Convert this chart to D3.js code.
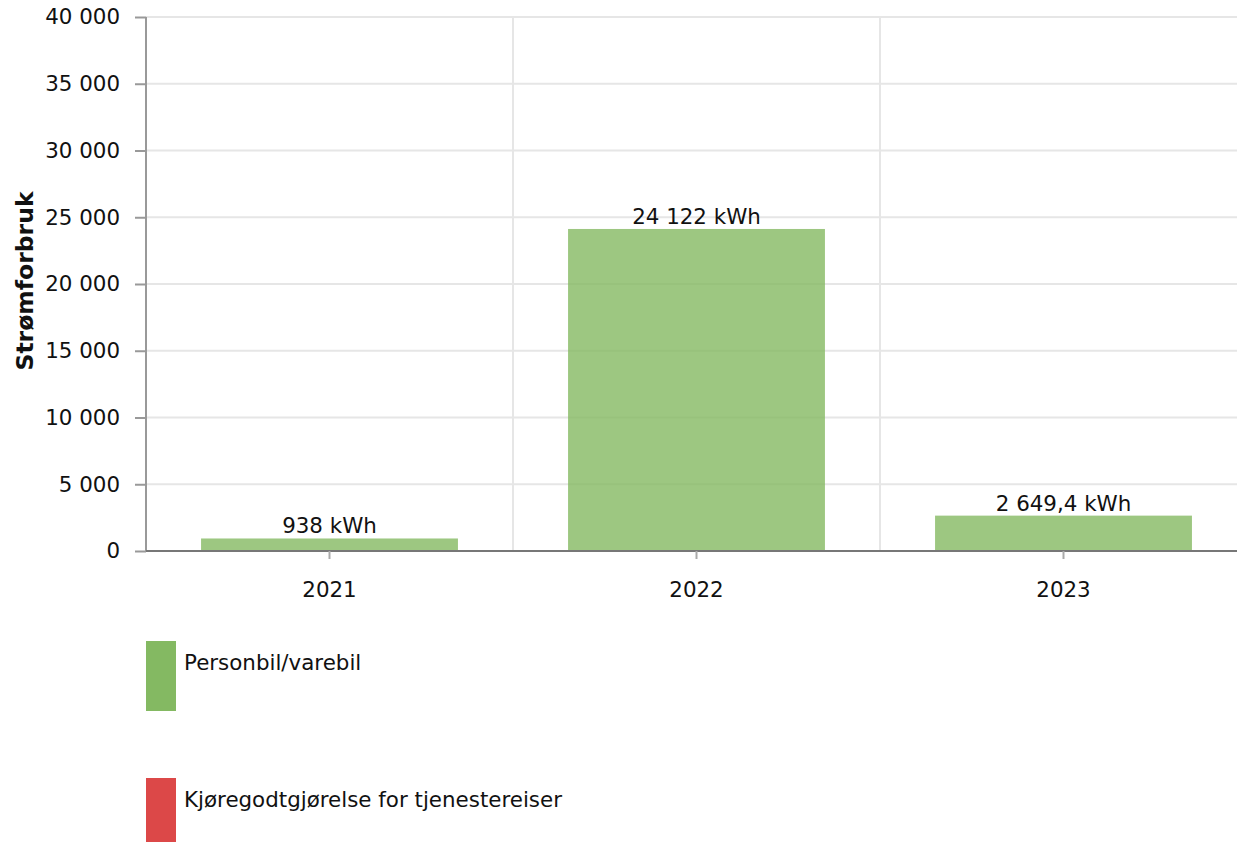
<!DOCTYPE html>
<html><head><meta charset="utf-8">
<script src="https://cdn.jsdelivr.net/npm/d3@7/dist/d3.min.js"></script>
<style>body{margin:0;background:#fff;}svg{display:block;font-family:"DejaVu Sans",Verdana,sans-serif;}</style>
</head><body>
<svg id="c" width="1237" height="842"></svg>
<script>
const categories = ["2021", "2022", "2023"];
const values = [938, 24122, 2649.4];
const valueLabels = ["938 kWh", "24 122 kWh", "2 649,4 kWh"];
const yTicks = [0, 5000, 10000, 15000, 20000, 25000, 30000, 35000, 40000];
const legendItems = ["Personbil/varebil", "Kjøregodtgjørelse for tjenestereiser"];
const legendColors = ["#84b962", "#dc4848"];

(function () {
const svg = d3.select("#c");
const pL = 146, pR = 1247, pT = 17, pB = 551;
const FS = 21.4;
const x = d3.scaleBand().domain(categories).range([pL, pR]).paddingInner(0.3).paddingOuter(0.15);
const xb = d3.scaleBand().domain(categories).range([pL, pR]);
const y = d3.scaleLinear().domain([0, 40000]).range([pB, pT]);
const fmt = v => d3.format(",")(v).replace(/,/g, " ");

// horizontal grid
svg.append("g").selectAll("line").data(yTicks.filter(d => d > 0)).join("line")
  .attr("x1", pL).attr("x2", 1237).attr("y1", d => y(d)).attr("y2", d => y(d))
  .attr("stroke", "#e6e6e6").attr("stroke-width", 2);
// vertical grid at band boundaries
svg.append("g").selectAll("line").data(categories.slice(1)).join("line")
  .attr("x1", d => xb(d)).attr("x2", d => xb(d)).attr("y1", pT).attr("y2", pB)
  .attr("stroke", "#e6e6e6").attr("stroke-width", 2);

// bars
svg.append("g").selectAll("rect").data(values).join("rect")
  .attr("x", (d, i) => x(categories[i])).attr("width", x.bandwidth())
  .attr("y", d => y(d)).attr("height", d => pB - y(d))
  .attr("fill", "#84b962").attr("fill-opacity", 0.8);

// value labels
svg.append("g").selectAll("text").data(values).join("text")
  .attr("x", (d, i) => x(categories[i]) + x.bandwidth() / 2).attr("y", d => y(d) - 5)
  .attr("text-anchor", "middle").attr("font-size", FS).attr("fill", "#111")
  .text((d, i) => valueLabels[i]);

// y axis
const ya = svg.append("g").attr("transform", `translate(${pL},0)`)
  .call(d3.axisLeft(y).tickValues(yTicks).tickFormat(fmt).tickSize(11).tickPadding(15));
ya.select(".domain").attr("stroke", "#999").attr("stroke-width", 2).attr("d", `M0,${pT}V${pB}`);
ya.selectAll(".tick line").attr("stroke", "#999").attr("stroke-width", 2);
ya.selectAll(".tick text").attr("font-size", FS).attr("fill", "#111").attr("font-family", "DejaVu Sans");

// x axis
const xa = svg.append("g").attr("transform", `translate(0,${pB})`)
  .call(d3.axisBottom(x).tickSize(8).tickPadding(23));
xa.select(".domain").attr("stroke", "#777").attr("stroke-width", 2).attr("d", `M${pL},0H1237`);
xa.selectAll(".tick line").attr("stroke", "#aaa").attr("stroke-width", 2);
xa.selectAll(".tick text").attr("font-size", FS).attr("fill", "#111").attr("font-family", "DejaVu Sans");

// y label
svg.append("text").attr("transform", `translate(33,281) rotate(-90)`)
  .attr("text-anchor", "middle").attr("font-size", 23.5).attr("font-weight", "bold").attr("fill", "#111")
  .text("Strømforbruk");

// legend
const lg = svg.append("g").selectAll("g").data(legendItems).join("g")
  .attr("transform", (d, i) => `translate(146,${i === 0 ? 641 : 778})`);
lg.append("rect").attr("width", 30).attr("height", (d, i) => i === 0 ? 70 : 64)
  .attr("fill", (d, i) => legendColors[i]);
lg.append("text").attr("x", 38).attr("y", 29).attr("font-size", FS).attr("fill", "#111").text(d => d);
})();
</script>
</body></html>
